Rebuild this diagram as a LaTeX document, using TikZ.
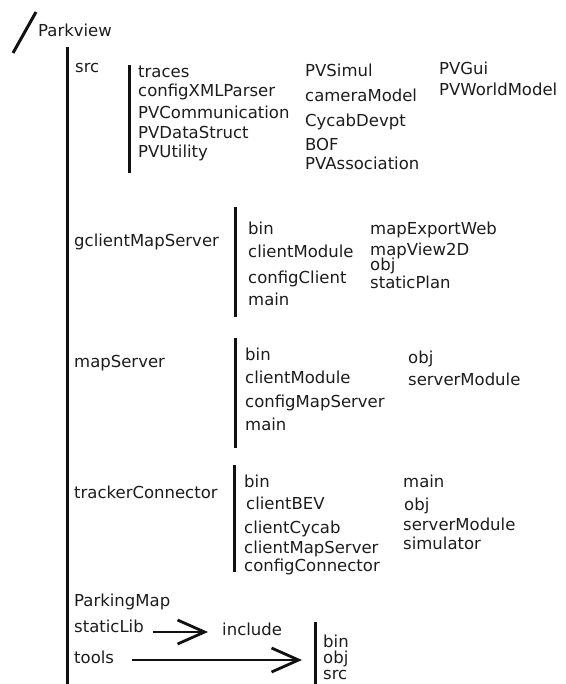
\documentclass[tikz,border=0pt]{standalone}
\usepackage{fontspec}
\setmainfont{DejaVu Sans}
\usetikzlibrary{arrows.meta}

\definecolor{pvink}{HTML}{1C1C1C}
\definecolor{pvrule}{HTML}{111111}

\begin{document}
\begin{tikzpicture}[
  x=1pt, y=-1pt,
  dirname/.style={
    anchor=base west,
    inner sep=0pt,
    text=pvink,
    font=\fontsize{16.5}{20}\selectfont
  },
  dirbar/.style={draw=pvrule, line width=3pt},
  linkarrow/.style={
    draw=pvrule,
    line width=2.8pt,
    -{Straight Barb[length=27pt, width=24pt, line width=2.8pt]}
  }
]

  \useasboundingbox (0,0) rectangle (565,684);

  % --------------------------------------------------------------------
  % Root folder
  % --------------------------------------------------------------------

  \draw[dirbar] (13,53) -- (36,12);
  \node[dirname] (root) at (38,37) {Parkview};
  \draw[dirbar] (67,47) -- (67,684);

  % --------------------------------------------------------------------
  % src
  % --------------------------------------------------------------------

  \node[dirname] (src) at (75,73) {src};
  \draw[dirbar] (129,65) -- (129,173);

  \foreach \x/\leaf/\y in {
    138/traces/78,
    138/configXMLParser/97,
    138/PVCommunication/119,
    138/PVDataStruct/139,
    138/PVUtility/158,
    305/PVSimul/77,
    305/cameraModel/102,
    305/CycabDevpt/127,
    305/BOF/151,
    305/PVAssociation/170,
    439/PVGui/75,
    439/PVWorldModel/96
  }{
    \node[dirname] (src-\leaf) at (\x,\y) {\leaf};
  }

  % --------------------------------------------------------------------
  % gclientMapServer
  % --------------------------------------------------------------------

  \node[dirname] (gms) at (74,247) {gclientMapServer};
  \draw[dirbar] (235,207) -- (235,317);

  \foreach \x/\leaf/\y in {
    248/bin/235,
    248/clientModule/258,
    248/configClient/283,
    248/main/305,
    370/mapExportWeb/235,
    370/mapView2D/255,
    370/obj/270,
    370/staticPlan/288
  }{
    \node[dirname] (gms-\leaf) at (\x,\y) {\leaf};
  }

  % --------------------------------------------------------------------
  % mapServer
  % --------------------------------------------------------------------

  \node[dirname] (ms) at (74,367) {mapServer};
  \draw[dirbar] (235,338) -- (235,448);

  \foreach \x/\leaf/\y in {
    245/bin/360,
    245/clientModule/383,
    245/configMapServer/407,
    245/main/430,
    408/obj/363,
    408/serverModule/385
  }{
    \node[dirname] (ms-\leaf) at (\x,\y) {\leaf};
  }

  % --------------------------------------------------------------------
  % trackerConnector
  % --------------------------------------------------------------------

  \node[dirname] (tc) at (74,498) {trackerConnector};
  \draw[dirbar] (234,465) -- (234,572);

  \foreach \x/\leaf/\y in {
    244/bin/487,
    246/clientBEV/509,
    244/clientCycab/533,
    244/clientMapServer/553,
    244/configConnector/571,
    403/main/487,
    404/obj/510,
    403/serverModule/530,
    403/simulator/549
  }{
    \node[dirname] (tc-\leaf) at (\x,\y) {\leaf};
  }

  % --------------------------------------------------------------------
  % ParkingMap, staticLib, tools
  % --------------------------------------------------------------------

  \node[dirname] (pmap) at (74,606) {ParkingMap};
  \node[dirname] (staticLib) at (74,632) {staticLib};
  \node[dirname] (include) at (222,635) {include};
  \node[dirname] (tools) at (74,663) {tools};

  \coordinate (libbar) at (315,660);
  \draw[dirbar] (315,622) -- (315,684);

  \foreach \leaf/\y in {
    bin/647,
    obj/663,
    src/679
  }{
    \node[dirname] (lib-\leaf) at (323,\y) {\leaf};
  }

  \draw[linkarrow, shorten <=9pt, shorten >=14pt]
    (staticLib.base east) -- (staticLib.base east -| include.west);
  \draw[linkarrow, shorten <=18pt, shorten >=13pt]
    (tools.base east |- libbar) -- (libbar);

\end{tikzpicture}
\end{document}
